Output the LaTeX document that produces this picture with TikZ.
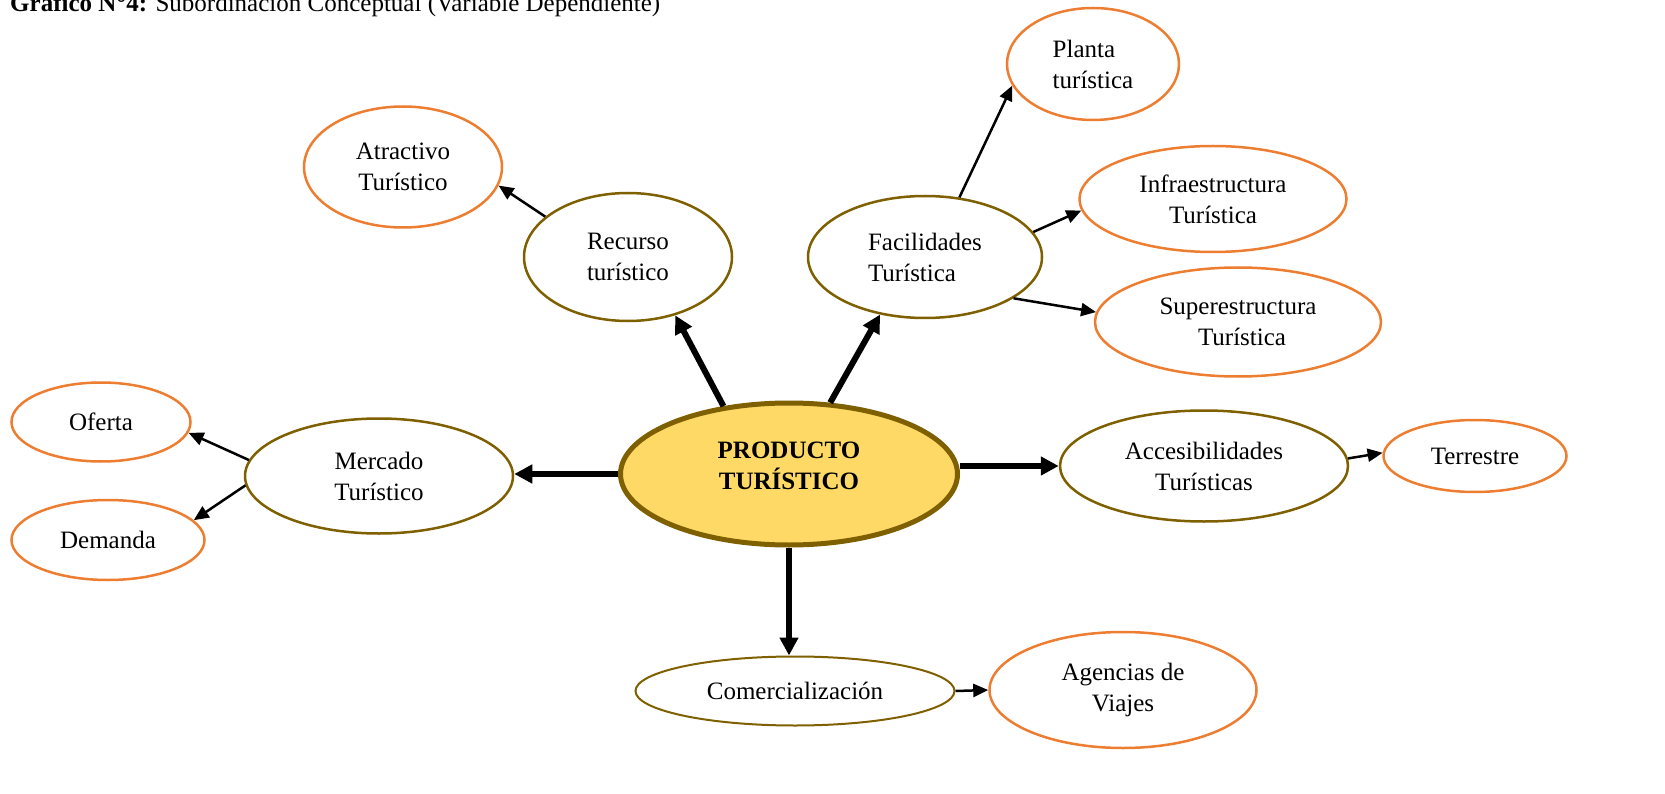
\documentclass[tikz,border=0pt]{standalone}
\usepackage{fontspec}
\setmainfont{Liberation Serif}
\usetikzlibrary{shapes.geometric,arrows.meta}
\definecolor{orng}{HTML}{ED7D31}
\definecolor{brwn}{HTML}{7F6000}
\definecolor{gold}{HTML}{FFD966}
\tikzset{
  ell/.style={ellipse, inner sep=0pt, font=\fontsize{25}{31}\selectfont, align=center},
  oe/.style={ell, draw=orng, line width=2.5pt},
  be/.style={ell, draw=brwn, line width=2.5pt},
  bigarrow/.style={line width=6pt, -{Triangle[length=18pt,width=18pt]}},
  smallarrow/.style={line width=2.5pt, -{Triangle[length=15pt,width=13pt]}}
}
\begin{document}
\begin{tikzpicture}[x=1pt,y=-1pt]
\useasboundingbox (0,0) rectangle (1665,794);
\node[anchor=base west, font=\fontsize{25}{31}\selectfont, inner sep=0pt] (title) at (10,12)
  {\textbf{Gráfico N°4:} Subordinación Conceptual (Variable Dependiente)};
% orange ellipses
\node[oe, minimum width=172pt, minimum height=112pt, align=left] (planta) at (1093,64) {Planta\\turística};
\node[oe, minimum width=198pt, minimum height=121pt] (atrac) at (403,167) {Atractivo\\Turístico};
\node[oe, minimum width=267pt, minimum height=106pt] (infra) at (1213,199) {Infraestructura\\Turística};
\node[oe, minimum width=286pt, minimum height=109pt] (super) at (1238,322) {Superestructura\\\hspace*{8pt}Turística};
\node[oe, minimum width=179pt, minimum height=79pt] (oferta) at (101,422) {Oferta};
\node[oe, minimum width=193pt, minimum height=80pt] (demanda) at (108,540) {Demanda};
\node[oe, minimum width=183pt, minimum height=72pt] (terr) at (1475,456) {Terrestre};
\node[oe, minimum width=267pt, minimum height=116pt] (agen) at (1123,690) {Agencias de\\Viajes};
% brown ellipses
\node[be, minimum width=208pt, minimum height=128pt] (recurso) at (628,257) {Recurso\\turístico};
\node[be, minimum width=234pt, minimum height=122pt, align=left] (facil) at (925,257) {Facilidades\\Turística};
\node[be, minimum width=268pt, minimum height=115pt] (merc) at (379,476) {Mercado\\Turístico};
\node[be, minimum width=288pt, minimum height=111pt] (acces) at (1204,466) {Accesibilidades\\Turísticas};
\node[be, line width=2pt, minimum width=319pt, minimum height=69pt] (comer) at (795,691) {Comercialización};
% central
\node[ell, draw=brwn, fill=gold, line width=5pt, minimum width=337pt, minimum height=142pt] (prod) at (789,474) {};
\node[font=\fontsize{25}{31}\selectfont\bfseries, align=center, inner sep=0pt] (prodtext) at (789,466) {PRODUCTO\\TURÍSTICO};
% thick arrows
\draw[bigarrow] (prod.134.6) -- (recurso.-51.3);
\draw[bigarrow] (prod.60.6) -- (facil.232);
\draw[bigarrow] (prod.west) -- (merc.east |- prod.west);
\draw[bigarrow] (acces.west -| prod.east) -- (acces.west);
\draw[bigarrow] (prod.south) -- (prod.south |- comer.north);
% thin arrows
\draw[smallarrow] (recurso.154.6) -- (atrac.-11.3);
\draw[smallarrow] (facil.60.4) -- (planta.195.8);
\draw[smallarrow] (facil.13.8) -- (infra.185.7);
\draw[smallarrow] (facil.-25.3) -- (super.176.3);
\draw[smallarrow] (merc.173.1) -- (oferta.-7);
\draw[smallarrow] (merc.184.3) -- (demanda.13.7);
\draw[smallarrow] (acces.3.2) -- (terr.178.2);
\draw[smallarrow] (comer.east) -- (agen.180.9);
\end{tikzpicture}
\end{document}
